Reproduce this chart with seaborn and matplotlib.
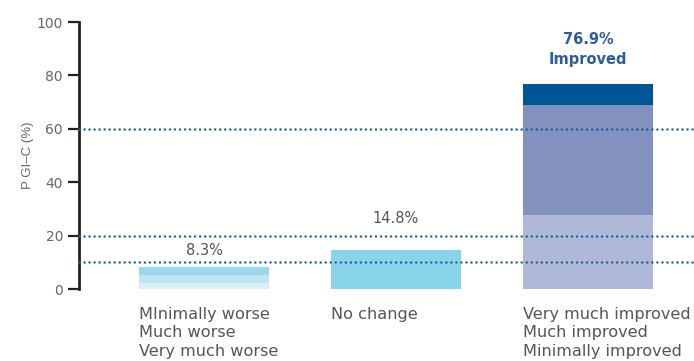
import matplotlib
matplotlib.use("Agg")
import matplotlib.pyplot as plt
import seaborn as sns
import pandas as pd

# PGI-C response categories (x axis)
categories = ["Worse", "No change", "Improved"]
category_labels = [
    "MInimally worse\nMuch worse\nVery much worse",
    "No change",
    "Very much improved\nMuch improved\nMinimally improved",
]

# Stacked segments, bottom to top (%)
worse_segments = [2.3, 3.0, 3.0]          # very much worse, much worse, minimally worse
no_change_segments = [14.8]
improved_segments = [27.7, 41.2, 8.0]     # minimally, much, very much improved

value_labels = ["8.3%", "14.8%", "76.9%\nImproved"]
reference_lines = [10, 20, 60]
yticks = [0, 20, 40, 60, 80, 100]

worse_colors = ["#dcf0f8", "#bde5f3", "#9bd8ec"]
no_change_colors = ["#8ad4ea"]
improved_colors = ["#afb9d7", "#8391bf", "#005594"]

segments = [worse_segments, no_change_segments, improved_segments]
colors = [worse_colors, no_change_colors, improved_colors]

# Cumulative heights per layer, so taller layers are drawn first and covered
rows = []
for cat, segs, cols in zip(categories, segments, colors):
    total = 0.0
    for layer, (s, c) in enumerate(zip(segs, cols)):
        total += s
        rows.append({"category": cat, "layer": layer, "top": total, "color": c})
df = pd.DataFrame(rows)

sns.set_style("white")
fig = plt.figure(figsize=(6.94, 3.61), dpi=100)
ax = fig.add_axes([0.1138, 0.1994, 0.8862, 0.7396])

for layer in sorted(df["layer"].unique(), reverse=True):
    sub = df[df["layer"] == layer]
    palette = dict(zip(sub["category"], sub["color"]))
    sns.barplot(data=sub, x="category", y="top", hue="category", order=categories,
                hue_order=list(sub["category"]), palette=palette, width=0.68,
                saturation=1, legend=False, ax=ax, zorder=2, linewidth=0)

for y in reference_lines:
    ax.axhline(y, color="#1b5e9e", lw=1.8, linestyle=(0, (0.01, 2.0)),
               dash_capstyle="round", zorder=3, clip_on=False)

ax.set_xlim(-0.651, 2.552)
ax.set_ylim(0, 100)
ax.set_yticks(yticks)
ax.set_yticklabels([str(t) for t in yticks], fontfamily="DejaVu Sans",
                   fontsize=10, color="#666666")
ax.tick_params(axis="y", left=True, direction="out", length=8, width=1.6,
               color="#222222", pad=3.5)
ax.set_xticks([])
ax.set_xlabel("")
ax.set_ylabel("P GI\u2013C (%)", fontfamily="Liberation Sans", fontsize=9.5,
              color="#666666", labelpad=2)

for side in ["top", "right", "bottom"]:
    ax.spines[side].set_visible(False)
ax.spines["left"].set_linewidth(2.0)
ax.spines["left"].set_color("#222222")

label_y = [14.5, 26.5, 89.8]
for i, (txt, ly) in enumerate(zip(value_labels, label_y)):
    if i == 2:
        ax.text(i, ly, txt, ha="center", va="center", fontfamily="DejaVu Sans",
                fontweight="bold", fontsize=10.5, color="#2e5d9e", linespacing=1.4)
    else:
        ax.text(i, ly, txt, ha="center", va="center", fontfamily="DejaVu Sans",
                fontsize=10.5, color="#555555")

for i, txt in enumerate(category_labels):
    ax.text(i - 0.34, -6.6, txt, ha="left", va="top", fontfamily="DejaVu Sans",
            fontsize=11.6, color="#555555", linespacing=1.3, clip_on=False)

fig.savefig("out.png", dpi=100)
